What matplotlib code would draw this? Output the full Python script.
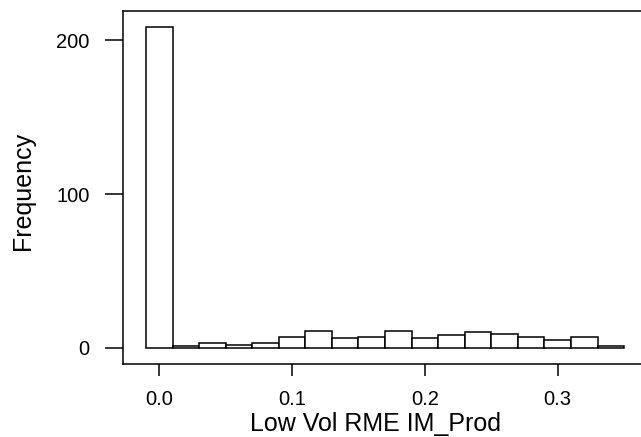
import matplotlib
matplotlib.use("Agg")
import matplotlib.pyplot as plt
from matplotlib.ticker import FormatStrFormatter

# histogram of the low-vol RME IM_Prod values, bins of width 0.02
bin_edges = [-0.01, 0.01, 0.03, 0.05, 0.07, 0.09, 0.11, 0.13, 0.15, 0.17,
             0.19, 0.21, 0.23, 0.25, 0.27, 0.29, 0.31, 0.33, 0.35]
counts = [209, 1, 3, 2, 3, 7, 11, 6, 7, 11, 6, 8, 10, 9, 7, 5, 7, 1]

x_ticks = [0.0, 0.1, 0.2, 0.3]
y_ticks = [0, 100, 200]

plt.rcParams['font.family'] = ['Liberation Sans', 'DejaVu Sans']

fig = plt.figure(figsize=(6.41, 4.37), dpi=100)
ax = fig.add_axes([123 / 641, 73 / 437, 520 / 641, 353.3 / 437])

lefts = bin_edges[:-1]
widths = [b - a for a, b in zip(bin_edges[:-1], bin_edges[1:])]
ax.bar(lefts, counts, width=widths, align='edge', color='white',
       edgecolor='black', linewidth=1.1)

ax.set_xlim(-0.0273, 0.3642)
ax.set_ylim(-10.6, 219.3)

ax.set_xticks(x_ticks)
ax.set_yticks(y_ticks)
ax.xaxis.set_major_formatter(FormatStrFormatter('%.1f'))

for s in ax.spines.values():
    s.set_linewidth(1.1)
    s.set_color('black')

ax.tick_params(axis='x', direction='out', length=8.6, width=1.1,
               labelsize=14.5, pad=10)
ax.tick_params(axis='y', direction='out', length=13, width=1.1,
               labelsize=14.5, pad=11)

ax.set_xlabel('Low Vol RME IM_Prod', fontsize=18)
ax.set_ylabel('Frequency', fontsize=18)
# place axis titles in pixel terms relative to the plot box
ax.xaxis.set_label_coords((376 - 123) / 520, -(412 - 364) / 353.3)
ax.yaxis.set_label_coords(-(123 - 35) / 520, (364 - 191) / 353.3)

fig.savefig('out.png', dpi=100)
